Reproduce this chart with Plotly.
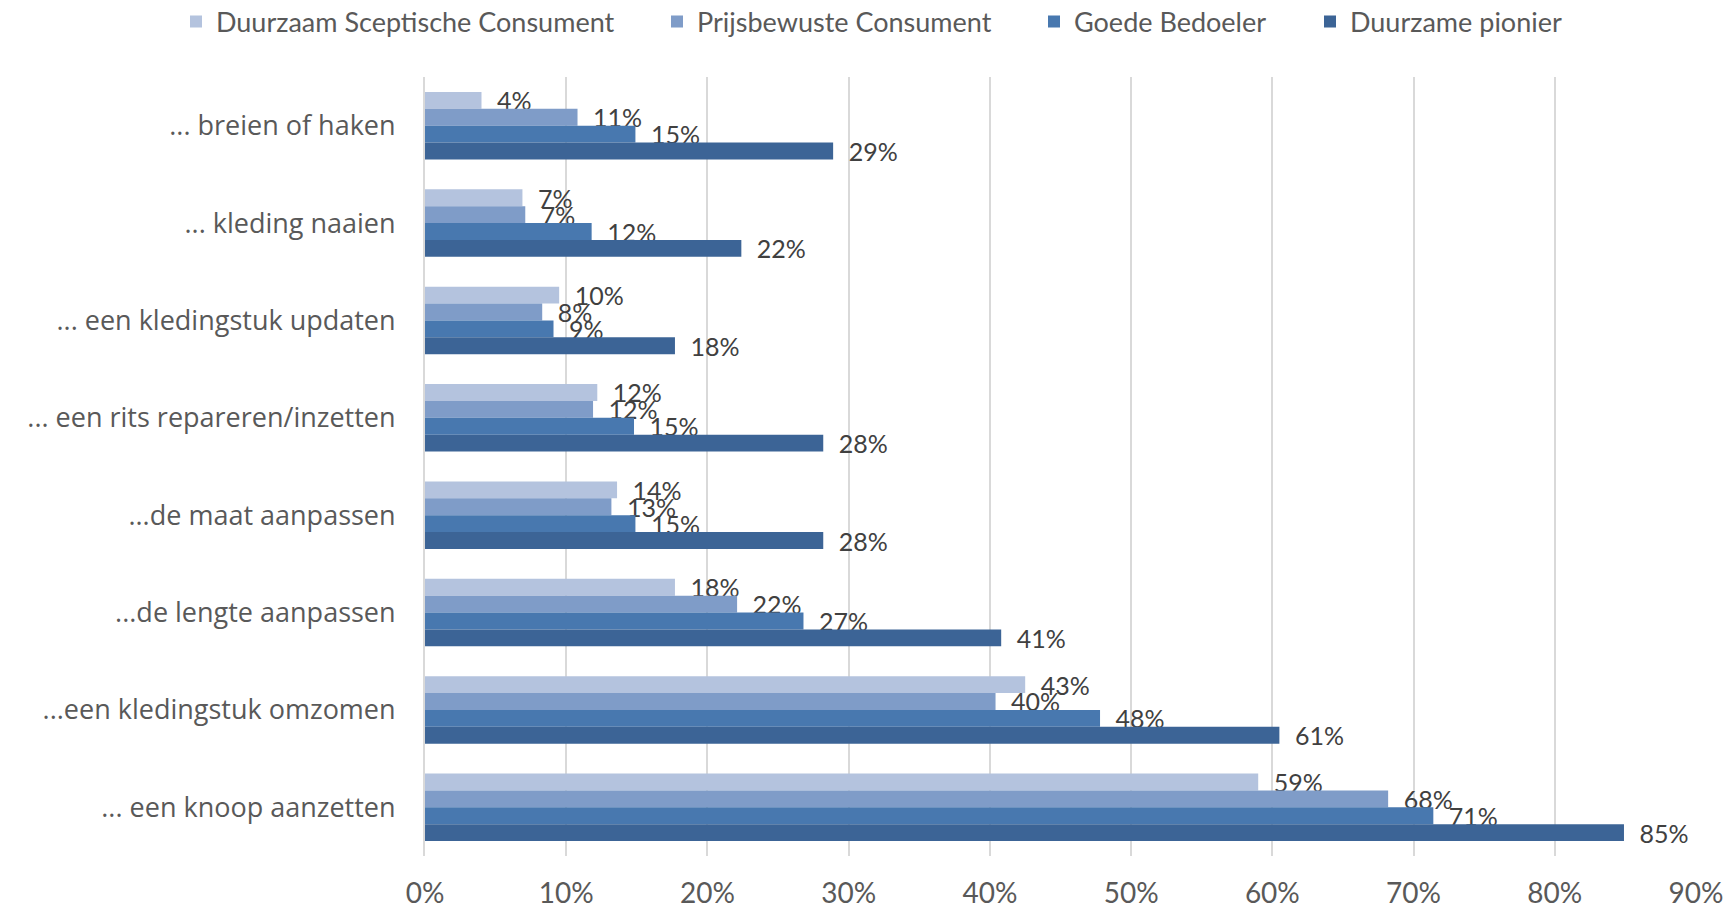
import plotly.graph_objects as go

categories = [
    "... breien of haken",
    "... kleding naaien",
    "... een kledingstuk updaten",
    "... een rits repareren/inzetten",
    "...de maat aanpassen",
    "...de lengte aanpassen",
    "...een kledingstuk omzomen",
    "... een knoop aanzetten",
]

series_names = [
    "Duurzaam Sceptische Consument",
    "Prijsbewuste Consument",
    "Goede Bedoeler",
    "Duurzame pionier",
]

sceptisch = [0.040, 0.069, 0.095, 0.122, 0.136, 0.177, 0.425, 0.590]
prijsbewust = [0.108, 0.071, 0.083, 0.119, 0.132, 0.221, 0.404, 0.682]
goede_bedoeler = [0.149, 0.118, 0.091, 0.148, 0.149, 0.268, 0.478, 0.714]
pionier = [0.289, 0.224, 0.177, 0.282, 0.282, 0.408, 0.605, 0.849]

series_values = [sceptisch, prijsbewust, goede_bedoeler, pionier]
colors = ["#B4C3DE", "#7F9CC8", "#4878AF", "#3C6496"]

x_ticks = [0, 0.1, 0.2, 0.3, 0.4, 0.5, 0.6, 0.7, 0.8, 0.9]

# one legend per series so each entry sits at its own horizontal spot
legend_ids = ["legend", "legend2", "legend3", "legend4"]
legend_text_x = [218, 699, 1076, 1352]

fig = go.Figure()
for name, vals, col, lid in zip(series_names, series_values, colors, legend_ids):
    fig.add_trace(go.Bar(
        name=name,
        x=vals,
        y=categories,
        orientation="h",
        marker=dict(color=col, line=dict(width=0)),
        texttemplate="\u2002%{x:.0%}",
        textposition="outside",
        constraintext="none",
        cliponaxis=False,
        textfont=dict(family="Lato, sans-serif", size=25, color="#404040"),
        hoverinfo="skip",
        legend=lid,
        showlegend=True,
    ))

legend_common = dict(
    orientation="h",
    xref="container",
    yref="container",
    y=1 - 22 / 911,
    xanchor="left",
    yanchor="middle",
    font=dict(family="Lato, sans-serif", size=27, color="#595959"),
    itemwidth=30,
    bgcolor="rgba(0,0,0,0)",
)

layout_legends = {}
for lid, tx in zip(legend_ids, legend_text_x):
    layout_legends[lid] = dict(legend_common, x=(tx - 42) / 1731)

fig.update_layout(
    width=1731,
    height=911,
    margin=dict(l=425, r=35, t=77, b=55),
    showlegend=True,
    paper_bgcolor="white",
    plot_bgcolor="white",
    barmode="group",
    bargap=0.306,
    bargroupgap=0,
    font=dict(family="Lato, sans-serif", color="#595959"),
    xaxis=dict(
        range=[0, 0.9],
        tickvals=x_ticks,
        tickformat=".0%",
        showgrid=True,
        gridcolor="#D9D9D9",
        gridwidth=2,
        zeroline=False,
        showline=False,
        tickfont=dict(family="Lato, sans-serif", size=28, color="#595959"),
        ticklabelstandoff=18,
        automargin=False,
        fixedrange=True,
    ),
    yaxis=dict(
        autorange="reversed",
        showgrid=False,
        showline=True,
        linecolor="#D9D9D9",
        linewidth=2,
        zeroline=False,
        tickfont=dict(family="Open Sans, sans-serif", size=27, color="#595959"),
        ticklabelstandoff=22,
        automargin=False,
        fixedrange=True,
    ),
    **layout_legends,
)

fig.write_html("out.html")
